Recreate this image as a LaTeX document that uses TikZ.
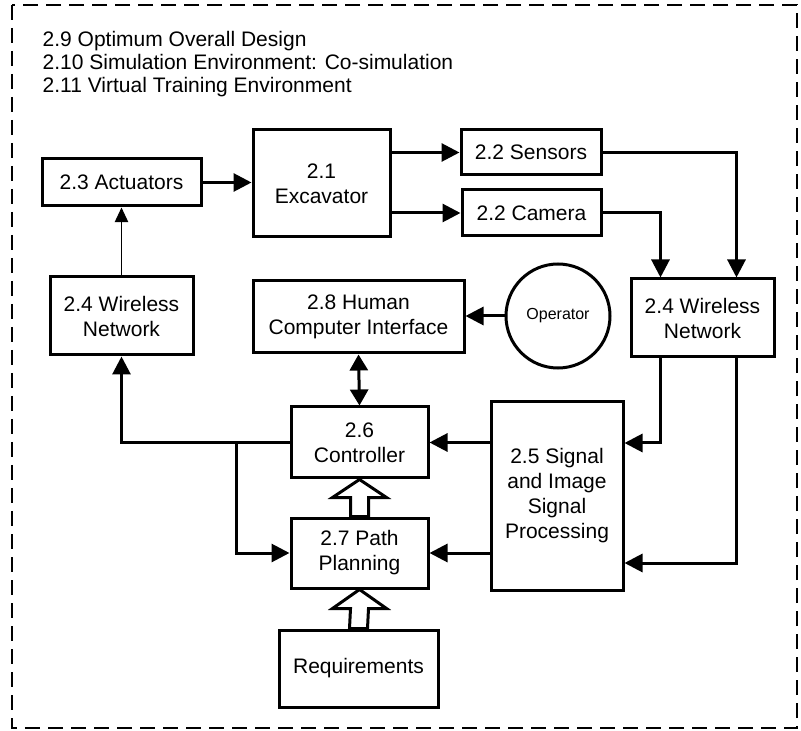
\documentclass[tikz,border=0pt]{standalone}
\usepackage{fontspec}
\setmainfont{Liberation Sans}
\usetikzlibrary{
  arrows.meta,
  calc
}

\begin{document}
\begin{tikzpicture}[
  x=0.75pt, y=-0.75pt,
  font=\fontsize{15.75}{18.75}\selectfont,
  block/.style={
    rectangle, draw=black, line width=2.25pt, align=center, inner sep=2pt
  },
  opcircle/.style={
    circle, draw=black, line width=2.25pt, minimum size=78pt,
    font=\fontsize{12}{14}\selectfont
  },
  flow/.style={-{Triangle[length=13.5pt,width=13.5pt]}, line width=2.25pt},
  biflow/.style={{Triangle[length=12pt,width=13.5pt]}-{Triangle[length=12pt,width=13.5pt]}, line width=2.25pt},
  thinflow/.style={-{Triangle[length=11pt,width=10pt]}, line width=1.2pt},
  hollow/.style={draw=black, fill=white, line width=2.25pt, line join=miter},
  frame/.style={line width=1.5pt, dash pattern=on 11.25pt off 6pt},
]
\useasboundingbox (0,0) rectangle (801,731);

% Outer dashed frame and the overall topics
\draw[frame] (12,5) rectangle (797,728);
\node[anchor=base west] (t9) at (38,47) {2.9 Optimum Overall Design};
\node[anchor=base west] (t10) at (38,70) {2.10 Simulation Environment: Co-simulation};
\node[anchor=base west] (t11) at (38,93) {2.11 Virtual Training Environment};

% Blocks
\node[block, minimum width=119.25pt, minimum height=35.25pt] (act) at (121.5,182.5)
  {2.3 Actuators};
\node[block, minimum width=102.75pt, minimum height=80.25pt] (exc) at (321.5,183.5)
  {2.1\\Excavator};
\node[block, minimum width=105pt, minimum height=33.75pt] (sens) at (531,152.5)
  {2.2 Sensors};
\node[block, minimum width=104.25pt, minimum height=34.5pt] (cam) at (531.5,213)
  {2.2 Camera};
\node[block, minimum width=107.25pt, minimum height=58.5pt] (wl) at (121.5,316)
  {2.4 Wireless\\Network};
\node[block, minimum width=158.25pt, minimum height=54pt] (hci) at (358.5,317)
  {2.8 Human\\Computer Interface};
\node[opcircle] (op) at (558,316) {Operator};
\node[block, minimum width=107.25pt, minimum height=58.5pt] (wr) at (702.5,318)
  {2.4 Wireless\\Network};
\node[block, minimum width=102.75pt, minimum height=53.25pt] (ctrl) at (359.5,442.5)
  {2.6\\Controller};
\node[block, minimum width=99pt, minimum height=141pt] (sig) at (557,496)
  {2.5 Signal\\and Image\\Signal\\Processing};
\node[block, minimum width=102.75pt, minimum height=52.5pt] (path) at (359.5,553)
  {2.7 Path\\Planning};
\node[block, minimum width=119.25pt, minimum height=57.75pt] (req) at (358.5,668.5)
  {Requirements};

% Connectors
\draw[flow] (act.east) -- (exc.west |- act.east);
\draw[flow] (sens.west -| exc.east) -- (sens.west);
\draw[flow] (cam.west -| exc.east) -- (cam.west);
\draw[flow] (sens.east) -| ($(wr.north)+(34,0)$);
\draw[flow] (cam.east) -| ($(wr.north)+(-42,0)$);
\draw[thinflow] (wl.north) -- (act.south);
\draw[flow] (op.west) -- (op.west -| hci.east);
\draw[biflow] (hci.south) -- (ctrl.north);
\draw[flow] ($(wr.south)+(-42,0)$) |- ($(sig.east)+(0,-53)$);
\draw[flow] ($(wr.south)+(34,0)$) |- ($(sig.east)+(0,67)$);
\draw[flow] (sig.west |- ctrl.east) -- (ctrl.east);
\draw[flow] (sig.west |- path.east) -- (path.east);
\draw[flow] (ctrl.west) -| (wl.south);
\draw[flow] ($(ctrl.west)+(-53,0)$) |- (path.west);

% Hollow arrows
\draw[hollow] ($(path.north)+(-9,0)$) -- ($(ctrl.south)+(-9,18)$)
  -- ($(ctrl.south)+(-27,18)$) -- (ctrl.south) -- ($(ctrl.south)+(27,18)$)
  -- ($(ctrl.south)+(9,18)$) -- ($(path.north)+(9,0)$) -- cycle;
\draw[hollow] ($(req.north)+(-9,0)$) -- ($(path.south)+(-9,19)$)
  -- ($(path.south)+(-27,19)$) -- (path.south) -- ($(path.south)+(27,19)$)
  -- ($(path.south)+(9,19)$) -- ($(req.north)+(9,0)$) -- cycle;

\end{tikzpicture}
\end{document}
